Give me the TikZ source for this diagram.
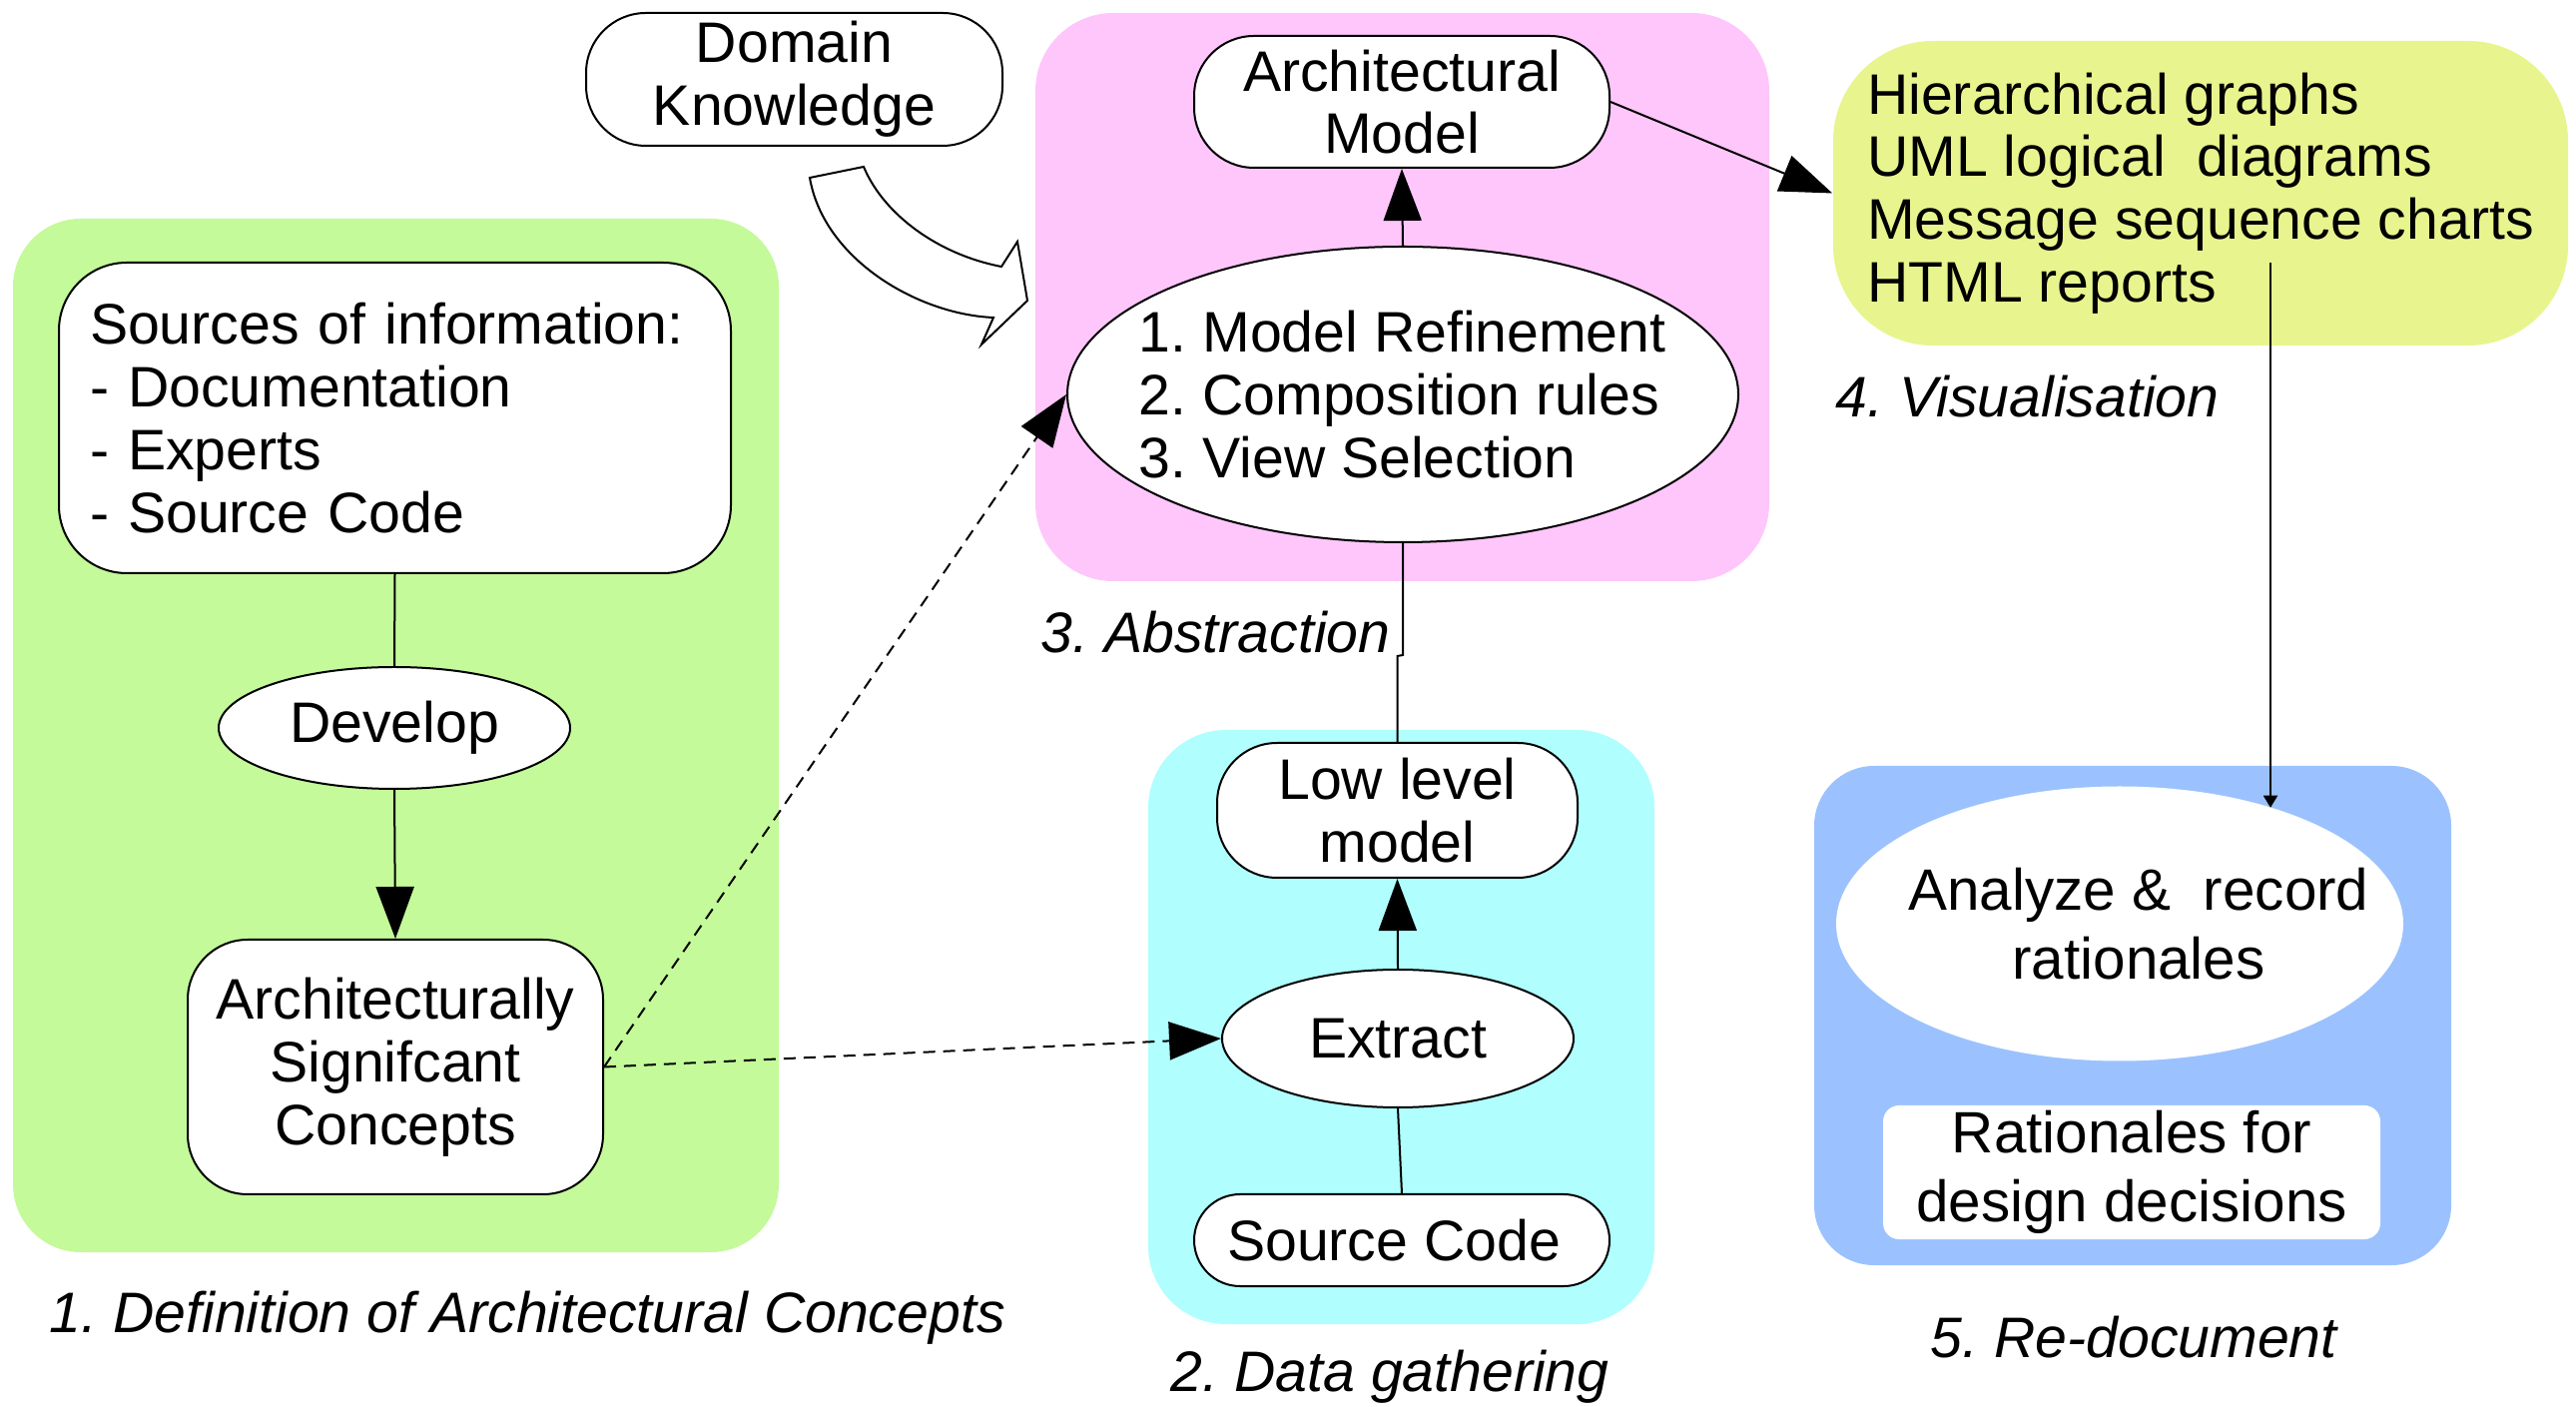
\documentclass[tikz,border=0pt]{standalone}
\usepackage{fontspec}
\setmainfont{Liberation Sans}
\usetikzlibrary{shapes.geometric,arrows.meta,calc}
\definecolor{cgreen}{HTML}{C4FA9A}
\definecolor{cpink}{HTML}{FEC6FB}
\definecolor{ccyan}{HTML}{B0FEFE}
\definecolor{cyellow}{HTML}{E8F58E}
\definecolor{cblue}{HTML}{9BC2FE}
\frenchspacing
\begin{document}
\begin{tikzpicture}[x=0.25pt,y=-0.25pt,
  txt/.style={font=\fontsize{14.3}{15.7}\selectfont},
  btxt/.style={font=\fontsize{14.6}{17.3}\selectfont},
  rbox/.style={draw=black, line width=0.5pt, fill=white, rounded corners=15pt, inner sep=0pt, align=center, txt},
  oval/.style={draw=black, line width=0.5pt, fill=white, ellipse, inner sep=0pt, txt},
  conn/.style={line width=0.5pt},
  arr/.style={conn, -{Triangle[length=13pt,width=9.5pt]}},
  darr/.style={arr, dash pattern=on 3pt off 2pt},
  caption/.style={font=\fontsize{14.3}{15.7}\selectfont\itshape, anchor=west, inner sep=0pt},
]
\useasboundingbox (0,0) rectangle (2580,1409);

% regions
\fill[cgreen, rounded corners=17pt] (13,219) rectangle (780,1254);
\fill[cpink, rounded corners=19.5pt] (1037,13) rectangle (1772,582);
\fill[ccyan, rounded corners=19.5pt] (1150,731) rectangle (1657,1326);
\fill[cblue, rounded corners=15pt] (1817,767) rectangle (2455,1267);

% 1. Definition
\node[rbox, rounded corners=17pt, minimum width=168.25pt, minimum height=77.75pt,
      text width=152.75pt, inner xsep=7.75pt, align=left] (src) at (395.5,418.5)
  {Sources of information:\\- Documentation\\- Experts\\- Source Code};
\node[oval, minimum width=88pt, minimum height=30.5pt] (dev) at (395,729) {Develop};
\node[rbox, minimum width=104pt, minimum height=63.75pt] (asc) at (396,1068.5)
  {Architecturally\\Signifcant\\Concepts};
\node[caption] (c1) at (49,1320) {1. Definition of Architectural Concepts};

% domain knowledge
\node[rbox, minimum width=104.25pt, minimum height=33.25pt] (dk) at (795.5,79.5) {Domain\\Knowledge};
\draw[line width=0.5pt, fill=white] (811,178) .. controls (825,260) and (920,315) .. (995,318)
  -- (983,345) -- (1029,301) -- (1019,242) -- (1003,267)
  .. controls (940,255) and (885,215) .. (865,167) -- cycle;

% 3. Abstraction
\node[rbox, minimum width=104pt, minimum height=33pt] (am) at (1404,102) {Architectural\\Model};
\node[oval, minimum width=168pt, minimum height=74pt] (mod) at (1405,395) {};
\node[txt, align=left, anchor=west, inner sep=0pt] (modtxt) at (1140,395)
  {1. Model Refinement\\2. Composition rules\\3. View Selection};
\node[caption] (c3) at (1042,633) {3. Abstraction};

% 2. Data gathering
\node[rbox, minimum width=90.25pt, minimum height=33.75pt] (llm) at (1399.5,811.5) {Low level\\model};
\node[oval, minimum width=88pt, minimum height=34.5pt] (ext) at (1400,1040) {Extract};
\node[rbox, rounded corners=11.5pt, minimum width=104pt, minimum height=23pt] (sc) at (1404,1242)
  {Source Code\hspace*{4pt}};
\node[caption] (c2) at (1172,1379) {2. Data gathering};

% 4. Visualisation
\node[fill=cyellow, rounded corners=25pt, minimum width=184pt, minimum height=76.25pt,
      inner xsep=0pt, inner ysep=0pt, align=left, txt] (vis) at (2204,193.5)
  {Hierarchical graphs\\UML logical~ diagrams\\Message sequence charts\\HTML reports};
\node[caption] (c4) at (1838,397) {4. Visualisation};

% 5. Re-document
\node[fill=white, ellipse, minimum width=142pt, minimum height=68.75pt, inner sep=0pt] (an) at (2123,925) {};
\node[btxt, align=center, inner sep=0pt] (antxt) at (2142,925) {Analyze \&~ record\\rationales};
\node[fill=white, rounded corners=4pt, minimum width=124.5pt, minimum height=33.5pt,
      inner sep=0pt, align=center, btxt] (rat) at (2135,1174) {Rationales for\\design decisions};
\node[caption] (c5) at (1933,1339) {5. Re-document};

% connectors
\draw[conn] (src.south) -- (dev.north);
\draw[arr] (dev.south) -- (asc.north);
\draw[darr] (asc.east) -- (mod.west);
\draw[darr] (asc.east) -- (ext.west);
\draw[arr] (ext.north) -- (llm.south);
\draw[conn] (sc.north) -- (ext.south);
\draw[conn] (llm.north) -- ++(0,-86) -- ($(mod.south)+(0,112)$) -- (mod.south);
\draw[arr] (mod.north) -- (am.south);
\draw[arr] (am.east) -- (vis.west);
\coordinate (vstart) at (2274,263);
\draw[conn, -{Triangle[length=3pt,width=3.5pt]}] (vstart) -- (vstart |- an.37.5);
\end{tikzpicture}
\end{document}
